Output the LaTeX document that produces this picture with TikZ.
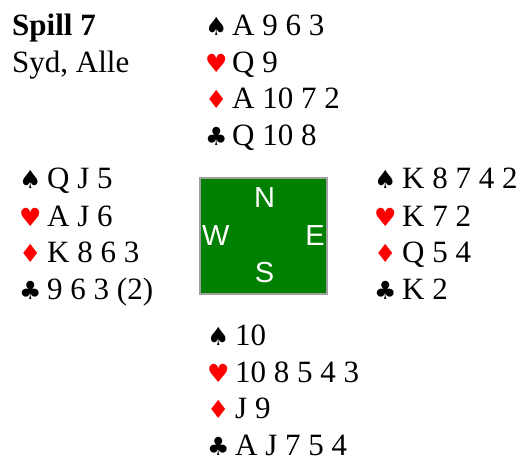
\documentclass[tikz,border=0pt]{standalone}
\usepackage{fontspec}
\setmainfont{Liberation Serif}
\newfontfamily\suitfont{DejaVu Sans}
\newfontfamily\dirfont{Liberation Sans}
\definecolor{boardgreen}{RGB}{0,128,0}
\definecolor{boardgray}{RGB}{160,160,160}
\begin{document}
\begin{tikzpicture}[x=1pt,y=-1pt,
  cards/.style={anchor=base west,inner sep=0pt,font=\fontsize{31}{31}\selectfont},
  suit/.style={anchor=base west,inner sep=0pt,font=\suitfont\fontsize{25}{25}\selectfont},
  redsuit/.style={suit,text=red},
  dir/.style={inner sep=0pt,text=white,font=\dirfont\fontsize{29}{29}\selectfont},
  title/.style={anchor=base west,inner sep=0pt,font=\fontsize{31}{31}\selectfont}]
\useasboundingbox (0,0) rectangle (528,457);
% title
\node[title,font=\bfseries\fontsize{31}{31}\selectfont] (t1) at (12,36) {Spill 7};
\node[title] (t2) at (12,73) {Syd, Alle};
% North
\node[suit] (ns) at (205,36) {♠};
\node[cards] (nsc) at (232,36) {A 9 6 3};
\node[redsuit] (nh) at (205,73) {♥};
\node[cards] (nhc) at (232,73) {Q 9};
\node[redsuit] (nd) at (205,109) {♦};
\node[cards] (ndc) at (232,109) {A 10 7 2};
\node[suit] (nc) at (205,146) {♣};
\node[cards] (ncc) at (232,146) {Q 10 8};
% West
\node[suit] (ws) at (19,189) {♠};
\node[cards] (wsc) at (47,189) {Q J 5};
\node[redsuit] (wh) at (19,227) {♥};
\node[cards] (whc) at (47,227) {A J 6};
\node[redsuit] (wd) at (19,263) {♦};
\node[cards] (wdc) at (47,263) {K 8 6 3};
\node[suit] (wc) at (19,300) {♣};
\node[cards] (wcc) at (47,300) {9 6 3 (2)};
% East
\node[suit] (es) at (374,189) {♠};
\node[cards] (esc) at (402,189) {K 8 7 4 2};
\node[redsuit] (eh) at (374,227) {♥};
\node[cards] (ehc) at (402,227) {K 7 2};
\node[redsuit] (ed) at (374,263) {♦};
\node[cards] (edc) at (402,263) {Q 5 4};
\node[suit] (ec) at (374,300) {♣};
\node[cards] (ecc) at (402,300) {K 2};
% South
\node[suit] (ss) at (207,345) {♠};
\node[cards] (ssc) at (235,345) {10};
\node[redsuit] (sh) at (207,382) {♥};
\node[cards] (shc) at (235,382) {10 8 5 4 3};
\node[redsuit] (sd) at (207,418) {♦};
\node[cards] (sdc) at (235,418) {J 9};
\node[suit] (sc) at (207,455) {♣};
\node[cards] (scc) at (235,455) {A J 7 5 4};
% board
\node[draw=boardgray,line width=2pt,fill=boardgreen,minimum width=127pt,minimum height=116pt,inner sep=0pt,anchor=north west] (board) at (199,177) {};
\node[dir,anchor=base] (dn) at (264.5,208) {N};
\node[dir,anchor=base west] (dw) at (202,246) {W};
\node[dir,anchor=base east] (de) at (325,246) {E};
\node[dir,anchor=base] (ds) at (264.5,283) {S};
\end{tikzpicture}
\end{document}
